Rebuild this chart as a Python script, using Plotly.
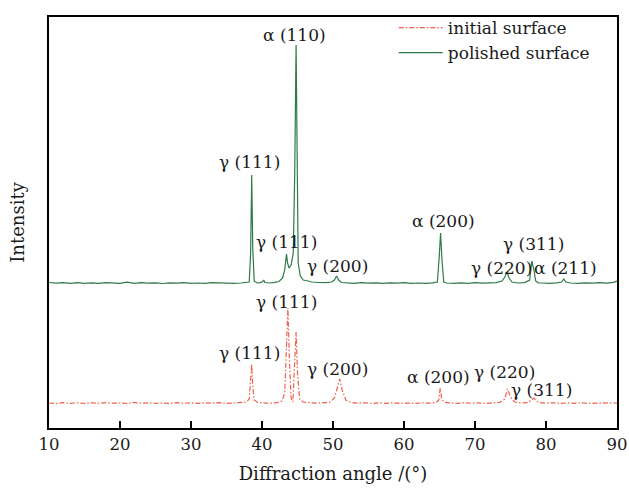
import plotly.graph_objects as go

# Polished surface (green, solid)
polished_x = [10, 11, 12, 13, 14, 15, 16, 17, 18, 19, 20, 21, 21.5, 22, 23, 24, 25, 26, 27, 28, 29, 30,
              31, 32, 33, 34, 35, 36, 37, 37.8, 38.2, 38.4, 38.55, 38.7, 38.9, 39.3, 39.8, 40.1, 40.25, 40.4,
              41, 41.8, 42.4, 42.9, 43.2, 43.45, 43.6, 43.8, 44.1, 44.4, 44.6, 44.8, 44.95, 45.1, 45.4, 45.8,
              46.5, 47, 48, 49, 49.8, 50.2, 50.5, 50.8, 51.2, 52, 53, 54, 55, 56, 57, 58, 59, 60, 61, 62, 63,
              64, 64.7, 64.95, 65.15, 65.35, 65.6, 66, 67, 68, 69, 70, 71, 72, 73, 73.8, 74.2, 74.5, 74.8, 75.2,
              76, 77, 77.7, 78.0, 78.3, 78.55, 78.9, 79.5, 80.5, 81.5, 82.2, 82.5, 82.8, 83.5, 84.5, 85.5,
              86.5, 87.5, 88.5, 89.5, 90]
polished_y = [145.5, 144.8, 145.4, 144.7, 145.3, 144.6, 145.2, 144.7, 145.4, 145.0, 144.6, 145.8, 145.0, 144.7,
              145.3, 144.8, 145.1, 144.5, 145.2, 144.9, 145.4, 144.7, 145.0, 144.6, 145.3, 144.9, 145.2, 144.6,
              145.0, 145.3, 146.0, 175, 253, 180, 147, 145.0, 145.4, 146.5, 148, 145.5, 145.0, 145.6, 146.5,
              150, 158, 174, 165, 160, 163, 175, 250, 383, 260, 165, 152, 148, 147, 146, 145.5, 145.3, 146,
              148, 152, 148, 145.5, 145.2, 144.7, 145.3, 144.8, 145.1, 144.6, 145.2, 144.8, 145.3, 144.7,
              145.0, 144.6, 145.2, 146, 170, 195, 168, 146, 145.0, 144.6, 145.2, 144.7, 145.3, 144.8, 145.1,
              145.4, 147, 151, 156, 150, 146, 145.0, 145.4, 148, 167, 158, 147, 145.2, 145.0, 144.6, 145.2,
              146, 149, 146, 145.0, 144.7, 145.2, 144.8, 145.3, 144.9, 145.6, 147]

# Initial surface (red, dash-dot)
initial_x = [10, 11, 12, 13, 14, 15, 16, 17, 18, 19, 20, 21, 22, 23, 24, 25, 26, 27, 28, 29, 30, 31, 32, 33,
             34, 35, 36, 37, 37.8, 38.2, 38.4, 38.55, 38.7, 38.9, 39.4, 40, 41, 42, 42.8, 43.2, 43.45, 43.65,
             43.85, 44.1, 44.35, 44.6, 44.8, 45.0, 45.3, 45.8, 46.5, 47.5, 48.5, 49.5, 50.2, 50.6, 50.95, 51.3,
             51.8, 52.5, 53.5, 54.5, 55.5, 56.5, 57.5, 58.5, 59.5, 60.5, 61.5, 62.5, 63.5, 64.5, 64.9, 65.1,
             65.3, 65.7, 66.5, 67.5, 68.5, 69.5, 70.5, 71.5, 72.5, 73.5, 74.2, 74.55, 74.8, 75.1, 75.6, 76.5,
             77.5, 78.0, 78.3, 78.6, 79.2, 80, 81, 82, 83, 84, 85, 86, 87, 88, 89, 90]
initial_y = [25.0, 24.4, 25.3, 24.6, 25.2, 24.5, 25.1, 24.7, 25.4, 24.8, 25.0, 24.5, 25.6, 24.8, 25.2, 24.6,
             25.0, 24.5, 25.3, 24.7, 25.1, 24.6, 25.2, 24.8, 25.3, 24.6, 25.0, 25.4, 26, 29, 45, 64, 42, 28,
             25.5, 25.0, 24.7, 25.2, 27, 35, 80, 120, 70, 30, 26, 60, 96, 55, 29, 26, 25.3, 24.8, 25.2, 25.6,
             30, 40, 49, 38, 28, 25.5, 24.9, 25.2, 24.6, 25.1, 24.7, 25.2, 24.6, 25.0, 24.5, 25.1, 24.8, 25.5,
             28, 40, 29, 25.6, 25.0, 24.6, 25.2, 24.7, 25.1, 24.6, 25.2, 25.5, 29, 39, 35, 30, 26, 25.0, 25.4,
             28, 30, 27, 25.3, 24.8, 25.2, 24.6, 25.1, 24.7, 25.2, 24.6, 25.0, 24.7, 25.1, 24.9]

# Peak labels: (text, 2θ position, label height)
peak_labels = [
    ("α (110)", 44.6, 393),
    ("γ (111)", 38.3, 266),
    ("γ (111)", 43.4, 186),
    ("γ (200)", 50.6, 162),
    ("α (200)", 65.5, 207),
    ("γ (311)", 78.3, 184),
    ("γ (220)", 73.8, 160),
    ("α (211)", 82.8, 160),
    ("γ (111)", 43.4, 126),
    ("γ (111)", 38.2, 75),
    ("γ (200)", 50.6, 59),
    ("α (200)", 64.8, 51),
    ("γ (220)", 74.2, 56),
    ("γ (311)", 79.3, 38),
]

FONT = "DejaVu Serif"

fig = go.Figure()
fig.add_trace(go.Scatter(x=initial_x, y=initial_y, mode="lines", name="initial surface",
                         line=dict(color="#f0604a", width=1.2, dash="5px,2px,1.5px,2px")))
fig.add_trace(go.Scatter(x=polished_x, y=polished_y, mode="lines", name="polished surface",
                         line=dict(color="#2f7a48", width=1.2)))

for text, xx, yy in peak_labels:
    fig.add_annotation(x=xx, y=yy, text=text, showarrow=False, xref="x", yref="y",
                       font=dict(family=FONT, size=17, color="#1a1a1a"))

fig.update_layout(
    width=629, height=489,
    margin=dict(l=49, r=12, t=17, b=61, autoexpand=False),
    paper_bgcolor="white", plot_bgcolor="white",
    font=dict(family=FONT, size=16, color="#1a1a1a"),
    showlegend=True,
    legend=dict(x=0.607, y=1.017, xanchor="left", yanchor="top", bgcolor="rgba(0,0,0,0)",
                font=dict(family=FONT, size=17, color="#1a1a1a"), tracegroupgap=0, itemwidth=44),
    xaxis=dict(range=[10, 90], tickvals=[10, 20, 30, 40, 50, 60, 70, 80, 90],
               ticks="inside", ticklen=7, tickwidth=1.5, tickcolor="black",
               showline=True, linecolor="black", linewidth=2, mirror=True,
               showgrid=False, zeroline=False, automargin=False,
               title=dict(text="Diffraction angle /(°)", font=dict(family=FONT, size=18), standoff=15),
               tickfont=dict(family=FONT, size=16.5)),
    yaxis=dict(range=[0, 411], showticklabels=False, ticks="",
               showline=True, linecolor="black", linewidth=2, mirror=True,
               showgrid=False, zeroline=False, automargin=False,
               title=dict(text="Intensity", font=dict(family=FONT, size=18), standoff=18)),
)

# remove the default page margin so the 629x489 figure fills the window exactly
fig.write_html("out.html", config={"displayModeBar": False},
               post_script="document.body.style.margin='0';document.body.style.overflow='hidden';")
